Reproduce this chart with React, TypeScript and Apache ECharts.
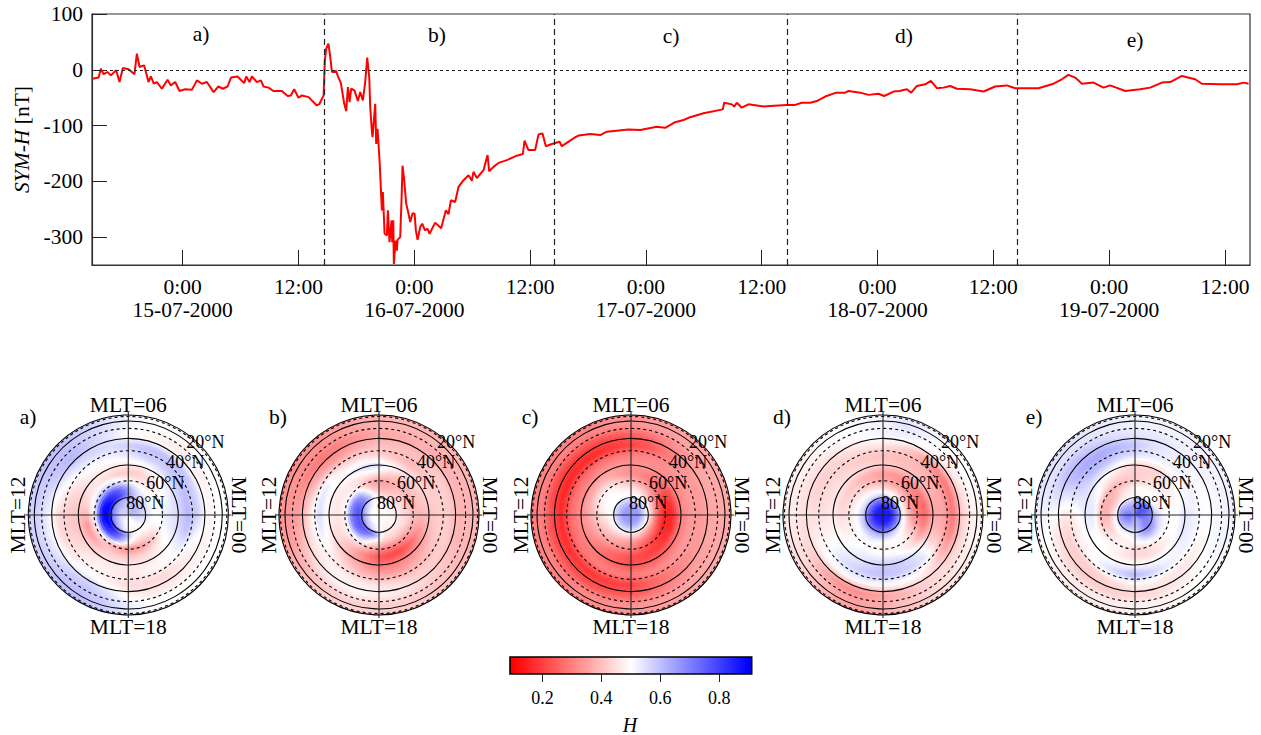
import React, { useEffect, useRef } from "react";
import * as echarts from "echarts";

const FONT = "'Liberation Serif','Times New Roman',serif";

// SYM-H curve: [hours since 15-07-2000 00:00, nT]
const symH = [
[-9.34,-16],[-8.72,-14],[-8.48,2],[-8.2,-8],[-7.8,-4],[-7.44,-10],[-6.9,-1],[-6.55,-22],[-6.2,3],[-5.6,1],[-5,-8],[-4.75,29],[-4.47,5],[-4,8],[-3.54,-22],[-3.3,-12],[-3,-25],[-2.68,-22],[-2.16,-34],[-1.57,-18],[-1.23,-28],[-0.78,-22],[-0.33,-38],[0.26,-35],[0.95,-36],[1.47,-19],[1.99,-25],[2.5,-22],[3.2,-40],[3.7,-30],[4.16,-34],[4.65,-30],[5,-14],[5.68,-12],[6.37,-24],[6.58,-12],[6.93,-22],[7.17,-12],[7.69,-22],[8.1,-19],[8.38,-30],[8.9,-32],[9.4,-38],[10.28,-38],[10.87,-47],[11.2,-46],[11.55,-35],[12,-50],[12.35,-46],[13.04,-49],[13.9,-64],[14.18,-61],[14.6,-46],
[14.73,17],[14.87,38],[15.1,47],[15.29,23],[15.46,-4],[15.9,-2],[16.05,-10],[16.39,-24],[16.74,-61],[16.94,-74],[17.12,-31],[17.29,-58],[17.46,-34],[17.8,-37],[18.15,-56],[18.4,-40],[18.67,-55],[18.91,-22],[19.12,22],[19.33,-13],[19.43,-67],[19.6,-109],[19.67,-121],[19.95,-61],[20.05,-133],[20.19,-106],[20.4,-163],[20.64,-252],[20.74,-219],[20.92,-294],[21.16,-297],[21.26,-252],[21.43,-309],[21.64,-270],[21.71,-309],[21.82,-270],[21.88,-348],[22.06,-306],[22.2,-324],[22.26,-305],[22.54,-300],[22.68,-231],[22.78,-172],[22.95,-198],[23.16,-240],[23.4,-258],[23.58,-273],[23.82,-257],[24.03,-258],[24.16,-288],[24.34,-305],[24.61,-282],[24.82,-276],[25.1,-288],[25.37,-285],[25.58,-294],
[26.16,-274],[26.78,-284],[27.27,-252],[27.54,-259],[27.79,-234],[28.23,-237],[28.58,-210],[29.1,-198],[29.62,-189],[29.96,-199],[30.13,-183],[30.48,-194],[31.17,-180],[31.59,-153],[31.76,-182],[32.2,-174],[32.73,-167],[33.59,-162],[34.62,-154],[35.25,-151],[35.42,-127],[35.83,-144],[36.52,-144],[36.87,-116],[37.28,-114],[37.63,-137],[38.25,-133],[39.05,-129],[39.29,-137],[40.15,-127],[40.67,-121],[41.02,-118],[42.23,-115],[43.26,-117],[43.95,-111],[46.2,-107],[47.41,-108],[49.13,-102],[50,-104],[51.03,-94],[51.9,-90],[52.59,-85],[53.97,-78],[55.97,-71],[56.11,-59],[56.91,-62],[57.15,-66],[57.42,-59],[57.94,-68],[58.63,-62],[60.19,-66],[60.88,-65],[62.6,-63],[63.47,-63],[64.16,-59],[65.02,-59],[65.71,-56],[66.58,-48],[67.72,-41],[68.65,-41],[69,-38],[70.2,-41],[71.07,-45],[72.1,-43],[72.69,-47],[73.66,-39],[74.28,-38],
[75.04,-35],[75.49,-41],[76.08,-29],[76.94,-26],[77.53,-20],[78.15,-33],[78.84,-32],[79.53,-29],[80.22,-34],[81.6,-35],[82.99,-39],[84.19,-30],[85.4,-28],[86.27,-33],[88.68,-33],[90.24,-25],[91.1,-17],[91.79,-9],[92.48,-14],[93.18,-25],[94.38,-23],[95.42,-32],[96.11,-28],[97.67,-38],[99.22,-35],[100.26,-32],[101.47,-23],[102.33,-22],[103.54,-11],[104.92,-17],[105.61,-25],[107.51,-26],[109.24,-26],[109.93,-23],[110.45,-25],
];
const phaseBounds = [14.66, 38.55, 62.6, 86.5];
const yTicks = [-300, -200, -100, 0, 100];
const hourTicks = [0, 12, 24, 36, 48, 60, 72, 84, 96, 108];
const dayLabels = ["15-07-2000", "16-07-2000", "17-07-2000", "18-07-2000", "19-07-2000"];
const phaseLabels = ["a)", "b)", "c)", "d)", "e)"];

// Map nodes: fraction of disc radius (cos latitude) per table row; columns are MLT 0..23, H x 100
const rowRadii = [0.08, 0.16, 0.2, 0.27, 0.34, 0.42, 0.5, 0.6, 0.7, 0.8, 0.9];

const panelA = [
[58,60,62,62,62,60,58,58,58,58,58,58,56,56,54,54,52,50,50,50,50,52,54,56],
[56,56,58,58,60,60,60,62,64,66,68,70,70,70,68,64,60,55,50,48,48,50,52,54],
[53,54,55,55,56,60,68,76,82,86,90,92,92,92,90,86,80,72,64,52,50,50,50,52],
[50,50,50,50,52,56,64,72,78,82,85,88,88,86,82,78,72,62,52,46,44,45,47,49],
[52,51,50,48,46,47,50,54,58,60,58,54,50,48,46,42,38,34,32,33,36,40,46,50],
[54,53,51,48,45,42,41,42,44,46,46,44,38,33,34,38,42,42,41,42,44,47,50,53],
[56,56,55,53,50,47,46,46,47,46,44,42,40,40,42,44,46,46,46,46,47,49,52,55],
[62,61,60,59,58,57,54,52,50,50,46,43,42,42,44,47,48,47,46,48,49,50,54,60],
[57,57,58,60,60,60,58,56,56,55,52,48,44,44,46,48,50,47,44,44,44,46,48,52],
[48,48,47,46,47,48,49,54,58,62,59,55,52,52,54,57,58,55,48,46,46,47,48,48],
[50,50,50,49,49,50,52,55,58,60,60,58,57,57,58,60,60,58,53,50,50,50,50,50],
];
const panelB = [
[49,49,49,49,49,49,49,49,50,50,50,50,50,50,50,50,50,50,50,49,49,49,49,49],
[48,48,48,47,47,47,48,50,54,58,62,64,66,66,64,62,58,54,50,48,47,47,48,48],
[46,46,45,44,44,44,45,52,62,70,74,78,78,78,78,78,76,70,60,46,46,46,46,46],
[44,43,43,42,40,38,38,42,52,64,70,72,72,72,72,68,60,50,44,42,42,42,43,44],
[40,38,38,38,37,35,34,36,42,48,50,50,48,48,48,46,44,38,33,30,30,32,35,38],
[38,40,41,40,40,42,46,47,46,46,46,46,46,45,44,40,35,28,23,20,20,24,30,35],
[40,42,43,44,46,50,55,56,54,50,48,48,48,46,44,40,36,32,28,28,30,32,35,38],
[42,42,42,40,38,40,43,44,44,47,53,55,56,54,50,46,42,38,36,35,36,38,40,42],
[42,42,42,41,40,40,40,38,35,35,38,42,45,46,47,48,48,47,45,44,42,42,42,42],
[38,38,38,37,37,36,36,33,30,28,30,33,35,38,42,46,48,49,48,47,44,42,40,38],
[38,38,38,38,38,38,38,36,34,32,32,33,33,34,37,40,42,43,42,42,41,40,39,38],
];
const panelC = [
[66,66,66,66,66,66,66,66,66,66,66,66,66,66,66,66,66,66,66,66,66,66,66,66],
[52,52,54,55,55,55,55,56,56,56,56,56,56,56,56,56,55,55,55,54,54,53,52,52],
[42,44,46,48,49,50,50,50,50,50,50,50,50,49,49,48,47,46,45,44,42,40,40,41],
[24,28,32,36,40,44,46,47,49,50,50,49,47,44,42,40,38,36,34,32,30,28,26,24],
[14,17,22,28,32,35,38,42,46,48,48,46,42,40,38,36,34,32,30,26,22,18,16,14],
[16,17,20,25,28,30,32,34,38,40,39,38,36,35,33,30,27,24,22,20,19,18,17,16],
[30,30,30,31,32,33,33,34,34,33,32,32,32,31,30,28,26,24,22,23,24,26,28,29],
[34,34,34,33,32,31,30,29,28,27,27,27,27,27,28,29,30,30,30,31,32,33,34,34],
[34,34,34,32,28,23,20,18,16,15,15,15,16,16,17,18,18,19,20,24,28,31,33,34],
[36,36,36,34,31,27,24,22,21,20,20,21,22,22,22,22,22,23,24,27,30,33,35,36],
[36,36,36,36,35,34,33,32,30,30,30,30,30,30,30,30,31,32,33,34,35,36,36,36],
];
const panelD = [
[86,86,86,86,86,86,86,86,86,86,86,86,86,86,86,86,86,86,86,86,86,86,86,86],
[68,68,68,69,70,70,70,70,70,70,70,70,72,72,74,74,74,74,74,72,72,70,70,68],
[50,50,50,50,52,54,56,56,56,56,56,56,58,60,62,62,62,62,62,60,58,56,54,52],
[36,36,38,40,42,43,44,46,47,48,49,50,50,50,50,52,53,52,50,50,50,48,44,40],
[30,30,31,32,33,35,36,38,40,43,44,45,46,47,48,49,49,48,47,48,49,47,42,35],
[26,26,28,30,32,33,34,36,38,40,42,43,44,46,48,50,52,52,52,52,49,44,36,30],
[36,36,38,40,40,41,42,43,44,45,46,46,47,48,50,52,54,56,58,58,56,52,44,39],
[36,36,37,38,39,39,40,41,42,43,44,44,45,47,50,54,57,59,60,59,57,54,44,38],
[28,28,28,32,38,43,46,46,44,43,42,43,45,47,49,50,51,51,50,50,49,44,36,30],
[43,44,46,48,50,52,52,50,48,46,45,45,45,44,42,36,32,32,35,38,42,44,43,43],
[48,49,50,50,52,54,52,51,50,49,48,47,47,46,44,40,36,35,37,40,43,45,47,48],
];
const panelE = [
[74,76,78,78,76,72,68,66,66,66,68,70,72,72,70,68,66,64,62,62,64,66,70,72],
[68,72,74,72,66,62,58,56,56,58,60,62,64,64,62,60,58,56,56,60,66,70,70,68],
[60,56,52,50,50,48,48,48,48,46,45,46,48,50,52,52,52,52,54,60,66,68,66,62],
[52,50,50,50,50,50,50,46,44,40,38,38,38,40,42,45,47,48,50,52,55,56,55,53],
[50,50,49,48,46,44,42,40,38,37,37,37,38,40,44,47,49,47,44,44,46,48,50,50],
[50,49,48,46,44,43,42,43,44,46,50,53,54,52,50,50,48,46,44,44,45,47,49,50],
[54,52,50,47,44,43,43,46,50,52,54,54,53,52,50,50,50,50,50,50,50,51,53,54],
[52,52,52,52,52,53,55,57,60,61,58,54,48,47,48,50,54,58,62,58,54,52,52,52],
[50,50,51,52,53,55,59,62,64,64,61,54,46,43,42,42,43,45,48,47,46,46,47,49],
[51,51,52,52,53,54,54,56,58,60,60,56,50,46,44,42,42,42,43,44,46,48,50,51],
[52,52,52,52,52,52,52,53,54,55,55,54,52,50,48,47,47,47,48,48,49,50,51,52],
];
const panels = [panelA, panelB, panelC, panelD, panelE];
const panelCenters = [128.3, 379, 631, 883, 1135];
const panelLetterX = [28, 278, 530, 782, 1034];
const ringLatitudes = [80, 70, 60, 50, 40, 30, 20, 10, 0];
const crossMlt = [0, 6, 12, 18];
const latLabels = [
  { t: "80°N", dx: -2, dy: -12.5 },
  { t: "60°N", dx: 18, dy: -32 },
  { t: "40°N", dx: 38, dy: -53 },
  { t: "20°N", dx: 58, dy: -73 },
];
const barTicks = [0.2, 0.4, 0.6, 0.8];

function hColor(v: number) {
  const c = Math.max(0.1, Math.min(0.9, v));
  if (c < 0.5) {
    const g = Math.round((255 * (c - 0.1)) / 0.4);
    return `rgb(255,${g},${g})`;
  }
  const g = Math.round((255 * (0.9 - c)) / 0.4);
  return `rgb(${g},${g},255)`;
}

function makeHeatRender(table: number[][]) {
  const nodes = [0, ...rowRadii, 1];
  const row = (k: number) => table[Math.max(0, Math.min(table.length - 1, k - 1))];
  return (params: any, api: any) => {
    const k = Math.floor(params.dataIndex / 24);
    const j = params.dataIndex % 24;
    const cs = params.coordSys;
    const rPix = (r: number) => api.coord([r, 0])[0] - cs.cx;
    const r0 = nodes[k];
    const r1 = nodes[k + 1];
    const nr = Math.max(2, Math.ceil((rPix(r1) - rPix(r0)) / 2.5));
    const na = Math.max(2, Math.ceil((r1 * 100 * 0.2618) / 3.5));
    const jn = (j + 1) % 24;
    const a = row(k), b = row(k + 1);
    const children: any[] = [];
    for (let p = 0; p < nr; p++) {
      for (let q = 0; q < na; q++) {
        const fr = (p + 0.5) / nr;
        const fa = (q + 0.5) / na;
        const lo = a[j] * (1 - fa) + a[jn] * fa;
        const hi = b[j] * (1 - fa) + b[jn] * fa;
        const col = hColor((lo * (1 - fr) + hi * fr) / 100);
        const t0 = ((j + q / na) * Math.PI) / 12;
        const t1 = ((j + (q + 1) / na) * Math.PI) / 12;
        children.push({
          type: "sector",
          shape: {
            cx: cs.cx, cy: cs.cy,
            r0: rPix(r0 + ((r1 - r0) * p) / nr),
            r: rPix(r0 + ((r1 - r0) * (p + 1)) / nr),
            startAngle: -t1, endAngle: -t0, clockwise: true,
          },
          style: { fill: col, stroke: col, lineWidth: 0.6 },
        });
      }
    }
    return { type: "group", children };
  };
}

function App() {
  const ref = useRef<HTMLDivElement>(null);
  useEffect(() => {
    document.body.style.margin = "0";
    const chart = echarts.init(ref.current!, null, { renderer: "svg" });

    const txt = (text: string, x: number, y: number, extra: any = {}, rot = 0, size = 21.5) => ({
      type: "text", x, y, rotation: rot, z: 100, silent: true,
      style: { text, x: 0, y: 0, align: "center", verticalAlign: "middle", fill: "#000",
        font: `${size}px ${FONT}`, ...extra },
    });

    const graphics: any[] = [];
    [[201, 34], [437, 35], [671, 36], [904, 36], [1135, 40]].forEach((p, i) =>
      graphics.push(txt(phaseLabels[i], p[0], p[1])));

    const polar: any[] = [], angleAxis: any[] = [], radiusAxis: any[] = [], series: any[] = [];

    series.push({
      type: "line", data: symH, xAxisIndex: 0, yAxisIndex: 0, showSymbol: false,
      lineStyle: { color: "#ff0000", width: 2 }, itemStyle: { color: "#ff0000" },
      markLine: {
        silent: true, symbol: "none", label: { show: false }, animation: false,
        data: [
          { yAxis: 0, lineStyle: { color: "#222", type: [3, 3], width: 1 } },
          ...phaseBounds.map((b) => ({ xAxis: b, lineStyle: { color: "#222", type: [6, 4], width: 1.2 } })),
        ],
      },
    });

    panels.forEach((table, i) => {
      const cx = panelCenters[i], cy = 515;
      polar.push({ center: [cx, cy], radius: [0, 100] });
      angleAxis.push({
        polarIndex: i, type: "value", min: 0, max: 24, startAngle: 0, clockwise: false,
        axisLine: { show: false }, axisTick: { show: false }, axisLabel: { show: false }, splitLine: { show: false },
      });
      radiusAxis.push({
        polarIndex: i, type: "value", min: 0, max: 1,
        axisLine: { show: false }, axisTick: { show: false }, axisLabel: { show: false }, splitLine: { show: false },
      });
      const nodes = [0, ...rowRadii];
      const cells: any[] = [];
      nodes.forEach((r, k) => {
        for (let j = 0; j < 24; j++) {
          cells.push([r, j, table[Math.min(k, table.length - 1)][j]]);
        }
      });
      series.push({
        type: "custom", coordinateSystem: "polar", polarIndex: i, silent: true, z: 3,
        renderItem: makeHeatRender(table), data: cells, clip: false,
      });
      series.push({
        type: "custom", coordinateSystem: "polar", polarIndex: i, silent: true, z: 4,
        data: ringLatitudes.map((lat) => [Math.cos((lat * Math.PI) / 180), 0, lat]),
        renderItem: (params: any, api: any) => {
          const cs = params.coordSys;
          const r = api.coord([api.value(0), 0])[0] - cs.cx;
          const lat = api.value(2);
          return {
            type: "circle", shape: { cx: cs.cx, cy: cs.cy, r },
            style: { fill: "none", stroke: "#000", lineWidth: 1.1, lineDash: lat % 20 === 0 ? null : [3, 3] },
          };
        },
      });
      series.push({
        type: "custom", coordinateSystem: "polar", polarIndex: i, silent: true, z: 5,
        data: crossMlt.map((m) => [1.03, m]),
        renderItem: (params: any, api: any) => {
          const cs = params.coordSys;
          const p = api.coord([api.value(0), api.value(1)]);
          return {
            type: "line", shape: { x1: cs.cx, y1: cs.cy, x2: p[0], y2: p[1] },
            style: { stroke: "#222", lineWidth: 1.1 },
          };
        },
      });
      graphics.push(txt("MLT=06", cx, cy - 110));
      graphics.push(txt("MLT=18", cx, cy + 112));
      graphics.push(txt("MLT=12", cx - 110, cy, {}, Math.PI / 2));
      graphics.push(txt("MLT=00", cx + 111, cy, {}, -Math.PI / 2));
      graphics.push(txt(phaseLabels[i], panelLetterX[i], 416.5));
      latLabels.forEach((l) =>
        graphics.push(txt(l.t, cx + l.dx, cy + l.dy, { align: "left" }, 0, 18)));
    });

    series.push({
      type: "custom", coordinateSystem: "cartesian2d", xAxisIndex: 1, yAxisIndex: 1, silent: true, z: 3,
      data: [[0.09, 0.91]],
      renderItem: (_p: any, api: any) => {
        const a = api.coord([api.value(0), 0]);
        const b = api.coord([api.value(1), 1]);
        const span = 0.91 - 0.09;
        return {
          type: "rect",
          shape: { x: a[0], y: b[1], width: b[0] - a[0], height: a[1] - b[1] },
          style: {
            fill: new echarts.graphic.LinearGradient(0, 0, 1, 0, [
              { offset: 0, color: "#ff0000" },
              { offset: (0.1 - 0.09) / span, color: "#ff0000" },
              { offset: (0.5 - 0.09) / span, color: "#ffffff" },
              { offset: (0.9 - 0.09) / span, color: "#0000ff" },
              { offset: 1, color: "#0000ff" },
            ]),
          },
        };
      },
    });
    graphics.push({
      type: "text", x: 630, y: 725, z: 100, silent: true,
      style: { text: "H", x: 0, y: 0, align: "center", verticalAlign: "middle", fill: "#000", font: `italic 20px ${FONT}` },
    });

    chart.setOption({
      animation: false,
      backgroundColor: "#fff",
      textStyle: { fontFamily: FONT },
      grid: [
        { left: 92, top: 14, width: 1158, height: 251, show: true, borderColor: "#333", borderWidth: 1.2, backgroundColor: "transparent" },
        { left: 510, top: 657, width: 241.7, height: 17, show: true, borderColor: "#000", borderWidth: 1.6, z: 6, backgroundColor: "transparent" },
      ],
      xAxis: [
        {
          gridIndex: 0, type: "value", min: -9.4, max: 110.6, splitLine: { show: false },
          axisLine: { onZero: false, lineStyle: { color: "#333", width: 1.2 } },
          axisTick: { inside: true, length: 15, customValues: hourTicks, lineStyle: { color: "#222", width: 1 } },
          axisLabel: {
            customValues: hourTicks, margin: 10, color: "#000", fontSize: 21.5, fontFamily: FONT,
            lineHeight: 23, verticalAlign: "top", hideOverlap: false,
            formatter: (v: number) => (v % 24 === 0 ? `0:00\n${dayLabels[v / 24]}` : "12:00"),
          },
        },
        {
          gridIndex: 1, type: "value", min: 0.09, max: 0.91, splitLine: { show: false },
          axisLine: { show: false, onZero: false },
          axisTick: { length: 8, customValues: barTicks, lineStyle: { color: "#222", width: 1 } },
          axisLabel: { customValues: barTicks, margin: 15, color: "#000", fontSize: 18, fontFamily: FONT, formatter: (v: number) => v.toFixed(1) },
        },
      ],
      yAxis: [
        {
          gridIndex: 0, type: "value", min: -350, max: 100, splitLine: { show: false },
          axisLine: { show: true, onZero: false, lineStyle: { color: "#333", width: 1.2 } },
          axisTick: { show: true, inside: true, length: 15, customValues: yTicks, lineStyle: { color: "#222", width: 1 } },
          axisLabel: { customValues: yTicks, margin: 9, color: "#000", fontSize: 21.5, fontFamily: FONT },
          name: "{i|SYM-H} [nT]", nameLocation: "middle", nameGap: 57, nameRotate: 90,
          nameTextStyle: {
            color: "#000", fontSize: 21.5, fontFamily: FONT,
            rich: { i: { fontStyle: "italic", fontSize: 21.5, fontFamily: FONT, color: "#000" } },
          },
        },
        { gridIndex: 1, type: "value", min: 0, max: 1, show: false },
      ],
      polar, angleAxis, radiusAxis, series,
      graphic: { elements: graphics },
    });
    return () => chart.dispose();
  }, []);
  return <div ref={ref} style={{ width: 1261, height: 735 }} />;
}

export default App;
